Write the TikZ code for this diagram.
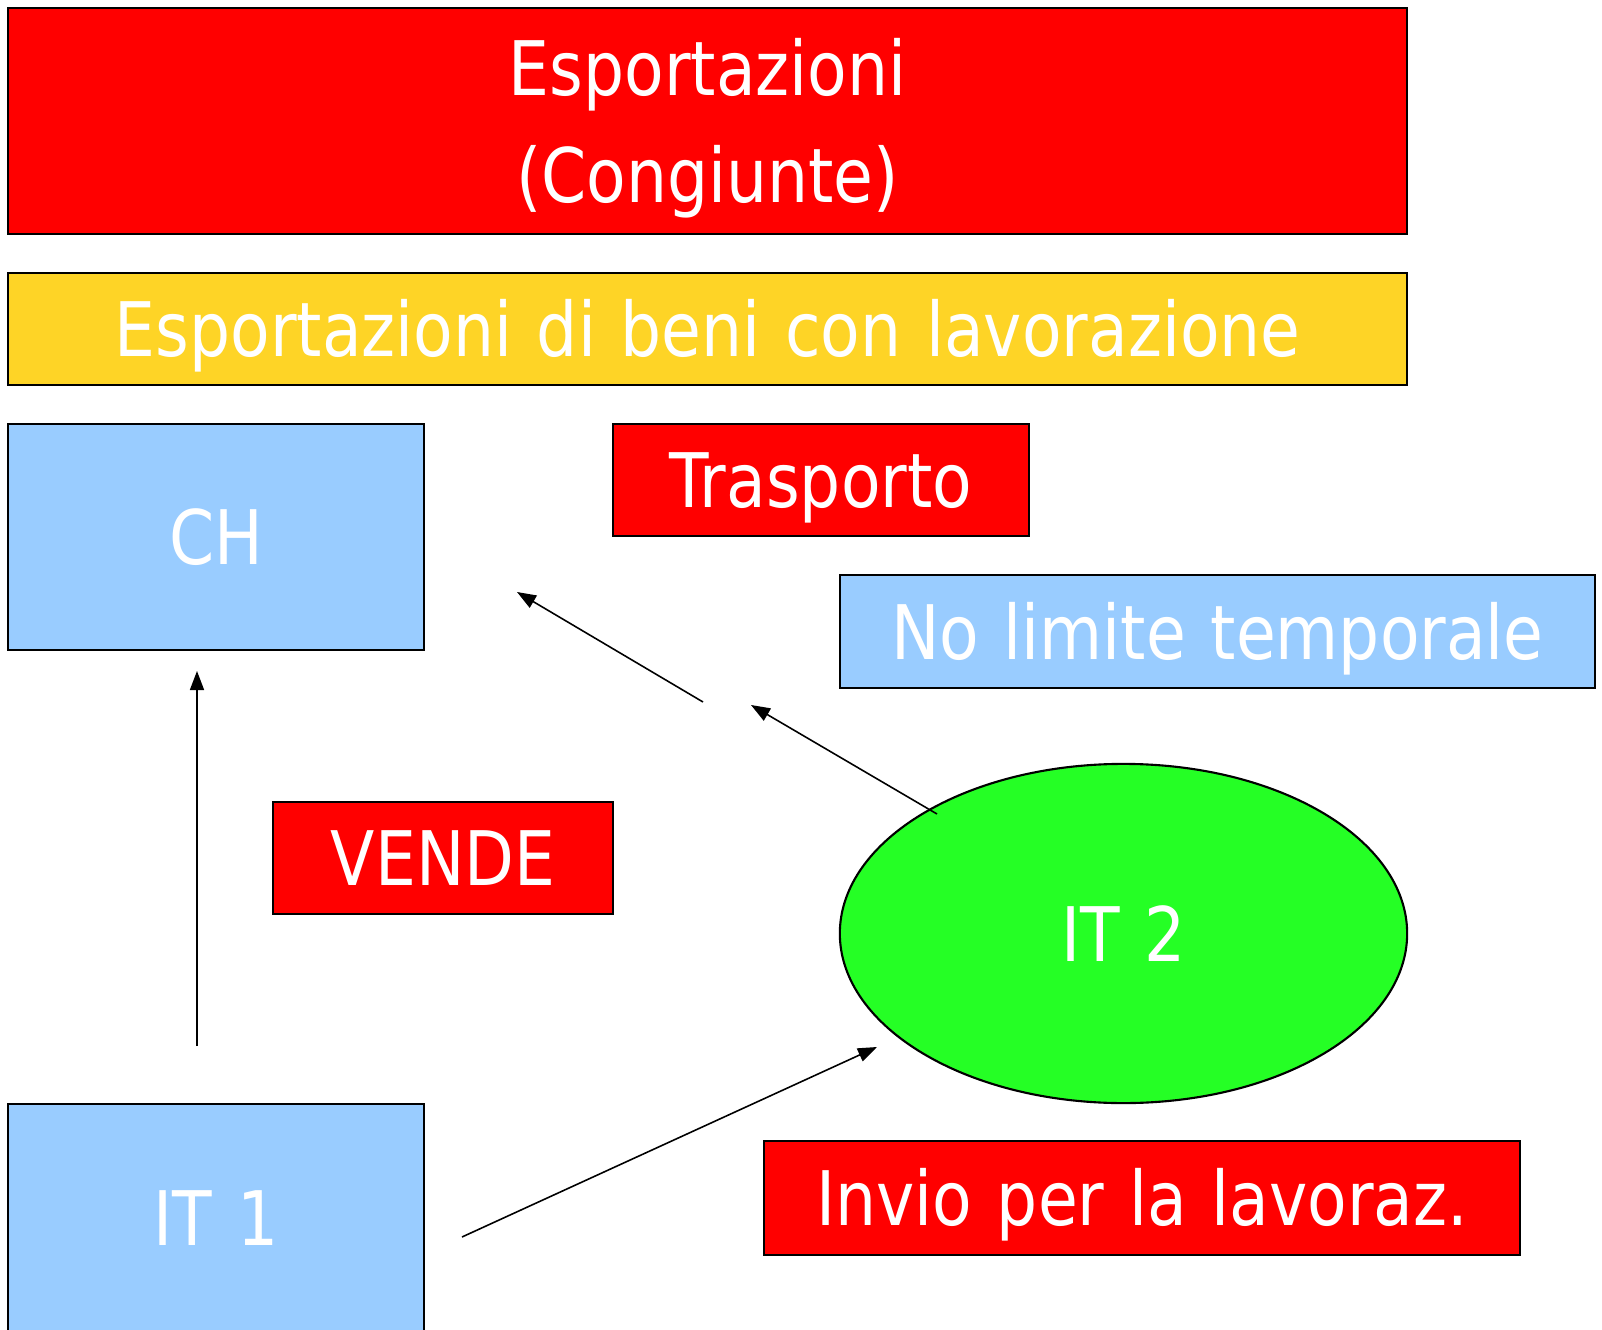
\documentclass[tikz,border=0pt]{standalone}
\usepackage{fontspec}
\setmainfont{DejaVu Sans}[FakeStretch=0.86, WordSpace=1.2]
\usepackage{tikz}
\usetikzlibrary{shapes.geometric,arrows.meta}
\definecolor{slide red}{rgb}{1, 0, 0}
\definecolor{slide yellow}{rgb}{0.9961, 0.8314, 0.1490}
\definecolor{slide blue}{rgb}{0.6, 0.8, 1}
\definecolor{slide green}{rgb}{0.1451, 1, 0.1451}
\tikzset{
	card/.style = {draw, line width=0.6pt, inner sep=0, text=white, align=center,
		font=\fontsize{21.4}{30.4}\selectfont, text height=0.55cm, text depth=0},
	link/.style = {line width=0.45pt, -{Triangle[length=0.19cm, width=0.14cm]}}
}

\begin{document}
\begin{tikzpicture}[x=0.01cm, y=-0.01cm]
		\useasboundingbox (0, 0) rectangle (1602, 1330);
		% headings
		\node[card, fill=slide red, minimum width=13.99cm, minimum height=2.26cm, text height=1.62cm] (congiunte) at (707.5, 121) {Esportazioni\\(Congiunte)};
		\node[card, fill=slide yellow, minimum width=13.99cm, minimum height=1.12cm] (lavorazione) at (707.5, 329) {Esportazioni di beni con lavorazione};
		% countries
		\node[card, fill=slide blue, minimum width=4.16cm, minimum height=2.26cm] (ch) at (216, 537) {CH};
		\node[card, fill=slide blue, minimum width=4.16cm, minimum height=2.27cm] (it1) at (216, 1217.5) {IT 1};
		\node[card, ellipse, fill=slide green, minimum width=5.67cm, minimum height=3.39cm] (it2) at (1123.5, 933.5) {IT 2};
		% labels
		\node[card, fill=slide red, minimum width=4.16cm, minimum height=1.12cm] (trasporto) at (821, 480) {Trasporto};
		\node[card, fill=slide blue, minimum width=7.55cm, minimum height=1.13cm] (limite) at (1217.5, 631.5) {No limite temporale};
		\node[card, fill=slide red, minimum width=3.40cm, minimum height=1.12cm] (vende) at (443, 858) {VENDE};
		\node[card, fill=slide red, minimum width=7.56cm, minimum height=1.14cm] (invio) at (1142, 1198) {Invio per la lavoraz.};
		% arrows
		\coordinate (vende tail) at (197, 1046);
		\coordinate (vende head) at (197, 671);
		\coordinate (invio tail) at (462, 1237);
		\coordinate (invio head) at (877, 1047);
		\coordinate (ritorno tail) at (937, 814);
		\coordinate (ritorno head) at (751, 705);
		\coordinate (trasporto tail) at (703, 702);
		\coordinate (trasporto head) at (517, 592);
		\draw[link] (vende tail) -- (vende head);
		\draw[link] (invio tail) -- (invio head);
		\draw[link] (ritorno tail) -- (ritorno head);
		\draw[link] (trasporto tail) -- (trasporto head);
	\end{tikzpicture}
\end{document}
